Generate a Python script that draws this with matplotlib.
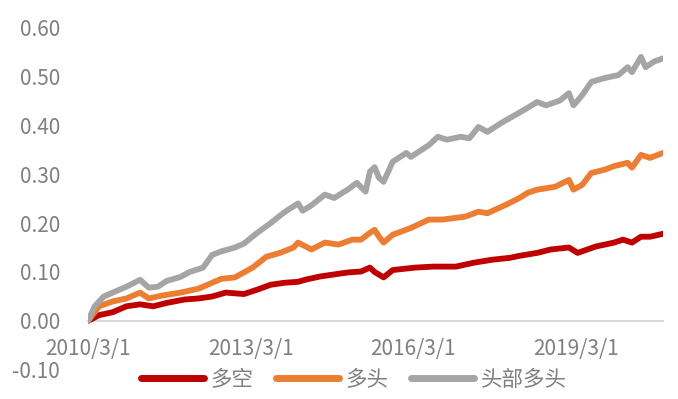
import matplotlib
matplotlib.use('Agg')
import matplotlib.pyplot as plt
import matplotlib.dates as mdates
import pandas as pd

plt.rcParams['font.family'] = ['Noto Sans CJK SC', 'DejaVu Sans']

# values (day 15 of each month unless noted)
ls_dates = ['2010-03-01', '2010-05', '2010-08', '2010-11', '2011-02', '2011-05', '2011-08',
            '2011-12', '2012-03', '2012-06', '2012-09', '2013-01', '2013-04', '2013-07',
            '2013-10', '2014-01', '2014-03', '2014-06', '2014-09', '2014-12', '2015-03',
            '2015-05', '2015-06', '2015-08', '2015-10', '2016-03', '2016-07', '2016-12',
            '2017-04', '2017-08', '2017-12', '2018-02', '2018-06', '2018-09', '2019-01',
            '2019-03', '2019-07', '2019-11', '2020-01', '2020-03', '2020-05', '2020-07',
            '2020-10-10']
ls_vals = [0.000, 0.012, 0.018, 0.030, 0.034, 0.030, 0.037,
           0.044, 0.046, 0.050, 0.058, 0.055, 0.064, 0.074,
           0.078, 0.080, 0.085, 0.091, 0.095, 0.099, 0.101,
           0.109, 0.100, 0.089, 0.104, 0.109, 0.111, 0.111,
           0.119, 0.125, 0.129, 0.133, 0.139, 0.146, 0.150,
           0.139, 0.152, 0.160, 0.166, 0.160, 0.172, 0.172,
           0.178]

long_dates = ['2010-03-01', '2010-05', '2010-08', '2010-11', '2011-02', '2011-04', '2011-07',
              '2011-11', '2012-03', '2012-06', '2012-08', '2012-11', '2013-03', '2013-06',
              '2013-09', '2013-12', '2014-01', '2014-04', '2014-07', '2014-10', '2015-01',
              '2015-03', '2015-05', '2015-06', '2015-07', '2015-08', '2015-10', '2016-02',
              '2016-06', '2016-09', '2017-02', '2017-05', '2017-07', '2017-11', '2018-02',
              '2018-04', '2018-06', '2018-10', '2019-01', '2019-02', '2019-04', '2019-06',
              '2019-09', '2019-11', '2020-02', '2020-03', '2020-05', '2020-07', '2020-10-10']
long_vals = [0.000, 0.030, 0.040, 0.046, 0.058, 0.046, 0.052,
             0.058, 0.066, 0.078, 0.086, 0.089, 0.109, 0.131,
             0.139, 0.150, 0.160, 0.146, 0.160, 0.156, 0.166,
             0.166, 0.180, 0.186, 0.172, 0.160, 0.176, 0.190,
             0.207, 0.207, 0.213, 0.223, 0.220, 0.237, 0.251,
             0.262, 0.268, 0.274, 0.288, 0.268, 0.278, 0.302,
             0.309, 0.316, 0.323, 0.313, 0.339, 0.333, 0.343]

top_dates = ['2010-03-01', '2010-04', '2010-06', '2010-08', '2010-11', '2011-02', '2011-04',
             '2011-06', '2011-08', '2011-11', '2012-01', '2012-04', '2012-06', '2012-08',
             '2012-11', '2013-01', '2013-04', '2013-07', '2013-10', '2014-01', '2014-02',
             '2014-04', '2014-07', '2014-09', '2014-12', '2015-02', '2015-04', '2015-05',
             '2015-06', '2015-07', '2015-08', '2015-10', '2016-01', '2016-02', '2016-06',
             '2016-08', '2016-10', '2017-01', '2017-03', '2017-05', '2017-07', '2017-10',
             '2018-01', '2018-03', '2018-06', '2018-08', '2018-11', '2019-01', '2019-02',
             '2019-04', '2019-06', '2019-09', '2019-12', '2020-02', '2020-03', '2020-05',
             '2020-06', '2020-08', '2020-10-10']
top_vals = [0.000, 0.030, 0.050, 0.058, 0.070, 0.084, 0.068,
            0.070, 0.082, 0.090, 0.100, 0.109, 0.135, 0.142,
            0.150, 0.158, 0.180, 0.200, 0.222, 0.240, 0.225,
            0.236, 0.258, 0.251, 0.268, 0.282, 0.264, 0.305,
            0.314, 0.292, 0.284, 0.325, 0.343, 0.335, 0.359,
            0.376, 0.370, 0.376, 0.373, 0.396, 0.386, 0.404,
            0.420, 0.430, 0.447, 0.440, 0.450, 0.465, 0.440,
            0.461, 0.488, 0.496, 0.502, 0.518, 0.508, 0.539,
            0.518, 0.530, 0.536]

labels = ['多空', '多头', '头部多头']
colors = ['#C00000', '#ED7D31', '#A5A5A5']
tick_dates = ['2010-03-01', '2013-03-01', '2016-03-01', '2019-03-01']
tick_labels = ['2010/3/1', '2013/3/1', '2016/3/1', '2019/3/1']


def to_dt(lst):
    return pd.to_datetime([d if len(d) > 7 else d + '-15' for d in lst])


fig = plt.figure(figsize=(6.78, 3.99), dpi=100)
ax = fig.add_axes([0.1298, 0.0727, 0.848, 0.8596])

series = [(ls_dates, ls_vals), (long_dates, long_vals), (top_dates, top_vals)]
for (d, v), lab, c in zip(series, labels, colors):
    ax.plot(to_dt(d), v, color=c, lw=4.2, label=lab,
            solid_capstyle='round', solid_joinstyle='round')

ax.set_ylim(-0.1, 0.6)
ax.set_yticks([-0.1, 0, 0.1, 0.2, 0.3, 0.4, 0.5, 0.6])
ax.set_yticklabels(['%.2f' % t for t in ax.get_yticks()])
ax.set_xlim(pd.Timestamp('2010-03-01'), pd.Timestamp('2020-10-10'))
ax.set_xticks(pd.to_datetime(tick_dates))
ax.set_xticklabels(tick_labels)

for s in ['top', 'right', 'left']:
    ax.spines[s].set_visible(False)
ax.spines['bottom'].set_position(('data', 0))
ax.spines['bottom'].set_color('#D9D9D9')
ax.spines['bottom'].set_linewidth(1.5)
ax.spines['bottom'].set_zorder(0)

ax.tick_params(axis='y', length=0, pad=20, labelsize=15, labelcolor='#808080')
ax.tick_params(axis='x', length=0, pad=12, labelsize=15, labelcolor='#808080')

leg = fig.legend(loc='center', bbox_to_anchor=(0.522, 0.048), ncol=3, frameon=False,
                 fontsize=15.5, handlelength=2.9, handletextpad=0.32, columnspacing=1.06,
                 labelcolor='#808080')
for h in leg.get_lines():
    h.set_linewidth(5)
    h.set_solid_capstyle('round')

fig.savefig('out.png', dpi=100)
